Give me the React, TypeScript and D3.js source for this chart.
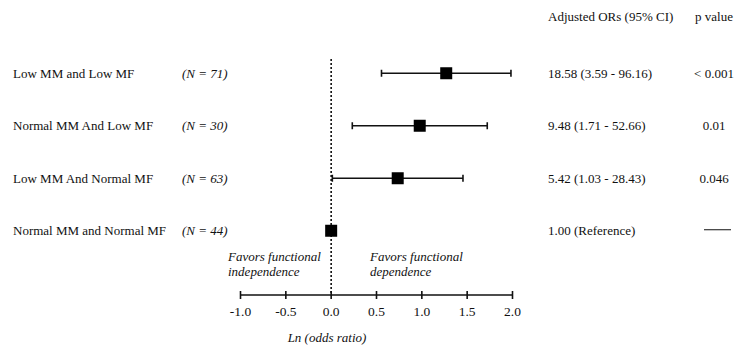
import * as d3 from 'd3';
import React from 'react';

// rows of the forest plot
const groups = ['Low MM and Low MF', 'Normal MM And Low MF', 'Low MM And Normal MF', 'Normal MM and Normal MF'];
const counts = ['(N = 71)', '(N = 30)', '(N = 63)', '(N = 44)'];
const oddsRatios = [18.58, 9.48, 5.42, 1.0];
const ciLow = [3.59, 1.71, 1.03, null];
const ciHigh = [96.16, 52.66, 28.43, null];
const orLabels = ['18.58 (3.59 - 96.16)', '9.48 (1.71 - 52.66)', '5.42 (1.03 - 28.43)', '1.00 (Reference)'];
const pValues = ['< 0.001', '0.01', '0.046', null];
const axisTicks = [-1.0, -0.5, 0.0, 0.5, 1.0, 1.5, 2.0];

const W = 736;
const H = 345;
const font = '"Liberation Serif", "Times New Roman", serif';
const ink = '#111';

const App = () => {
    const x = d3.scaleLinear().domain([-1, 2]).range([240.5, 512.5]);
    const y = d3.scaleBand().domain(groups).range([47, 257]).paddingInner(0);
    const rowY = (g: string) => (y(g) as number) + y.bandwidth() / 2;
    const axisY = 295;
    const sq = 12;
    const lg = (v: number) => Math.log10(v);
    const pX = 714;

    return (
        <svg width={W} height={H} style={{ position: 'absolute', left: 0, top: 0, background: '#fff' }}
            fontFamily={font} fill={ink}>
            {/* column headers */}
            <text x={548} y={21} fontSize={13}>Adjusted ORs (95% CI)</text>
            <text x={pX} y={21} fontSize={13} textAnchor="middle">p value</text>

            {/* reference line */}
            <line x1={x(0)} x2={x(0)} y1={59} y2={axisY} stroke={ink} strokeWidth={1.6} strokeDasharray="2,2" />

            {groups.map((g, i) => {
                const cy = rowY(g);
                const lo = ciLow[i];
                const hi = ciHigh[i];
                return (
                    <g key={g}>
                        <text x={13} y={cy + 4.5} fontSize={13}>{g}</text>
                        <text x={182} y={cy + 4.5} fontSize={13} fontStyle="italic">{counts[i]}</text>
                        {lo != null && hi != null && (
                            <g stroke={ink} strokeWidth={1.6}>
                                <line x1={x(lg(lo))} x2={x(lg(hi))} y1={cy} y2={cy} />
                                <line x1={x(lg(lo))} x2={x(lg(lo))} y1={cy - 3.5} y2={cy + 3.5} />
                                <line x1={x(lg(hi))} x2={x(lg(hi))} y1={cy - 3.5} y2={cy + 3.5} />
                            </g>
                        )}
                        <rect x={x(lg(oddsRatios[i])) - sq / 2} y={cy - sq / 2} width={sq} height={sq} fill="#000" />
                        <text x={548} y={cy + 4.5} fontSize={13}>{orLabels[i]}</text>
                        {pValues[i] != null
                            ? <text x={pX} y={cy + 4.5} fontSize={13} textAnchor="middle">{pValues[i]}</text>
                            : <line x1={704} x2={731} y1={cy - 1} y2={cy - 1} stroke={ink} strokeWidth={1} />}
                    </g>
                );
            })}

            {/* direction notes */}
            <g fontSize={13} fontStyle="italic">
                <text x={228} y={261}>Favors functional</text>
                <text x={228} y={276}>independence</text>
                <text x={370} y={261}>Favors functional</text>
                <text x={370} y={276}>dependence</text>
            </g>

            {/* x axis */}
            <line x1={x(-1)} x2={x(2)} y1={axisY} y2={axisY} stroke={ink} strokeWidth={1.6} />
            {axisTicks.map(t => (
                <g key={t}>
                    <line x1={x(t)} x2={x(t)} y1={axisY - 4} y2={axisY + 4} stroke={ink} strokeWidth={1.6} />
                    <text x={x(t)} y={316} fontSize={13.5} textAnchor="middle">{t.toFixed(1)}</text>
                </g>
            ))}
            <text x={327} y={342} fontSize={13} fontStyle="italic" textAnchor="middle">Ln (odds ratio)</text>
        </svg>
    );
};

export default App;
